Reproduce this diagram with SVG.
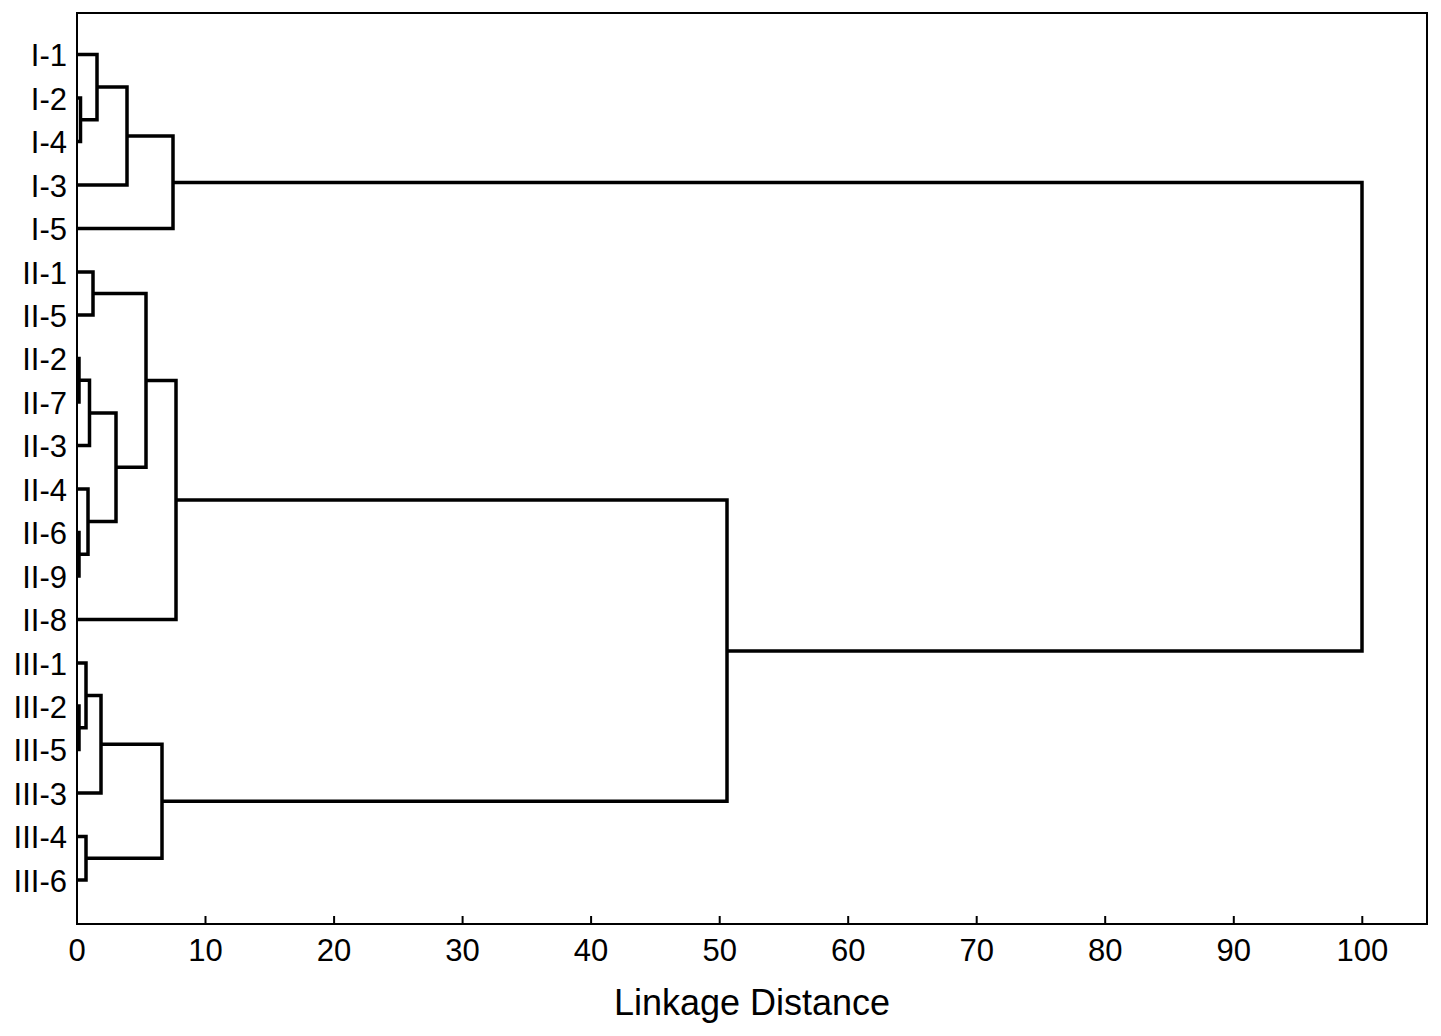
<svg xmlns="http://www.w3.org/2000/svg" width="1441" height="1036" viewBox="0 0 1441 1036">
<style>
.lbl{font-family:"Liberation Sans",Arial,sans-serif;font-size:31px;fill:#000;}
.leaf{text-anchor:end;}
.tick{text-anchor:middle;}
.title{font-family:"Liberation Sans",Arial,sans-serif;font-size:36px;fill:#000;text-anchor:middle;}
.link{fill:none;stroke:#000;stroke-width:3.5;stroke-linejoin:miter;}
.frame{fill:none;stroke:#000;stroke-width:2;}
.tk{stroke:#000;stroke-width:2;}
</style>
<rect x="0" y="0" width="1441" height="1036" fill="#fff"/>
<g id="frame">
<rect class="frame" x="77" y="13" width="1350" height="911"/>
<path class="tk" d="M205.5 924V916M334.1 924V916M462.6 924V916M591.1 924V916M719.7 924V916M848.2 924V916M976.7 924V916M1105.2 924V916M1233.8 924V916M1362.3 924V916"/>
</g>
<g id="axis-labels">
<text class="lbl tick" x="77" y="961">0</text>
<text class="lbl tick" x="205.5" y="961">10</text>
<text class="lbl tick" x="334.1" y="961">20</text>
<text class="lbl tick" x="462.6" y="961">30</text>
<text class="lbl tick" x="591.1" y="961">40</text>
<text class="lbl tick" x="719.7" y="961">50</text>
<text class="lbl tick" x="848.2" y="961">60</text>
<text class="lbl tick" x="976.7" y="961">70</text>
<text class="lbl tick" x="1105.2" y="961">80</text>
<text class="lbl tick" x="1233.8" y="961">90</text>
<text class="lbl tick" x="1362.3" y="961">100</text>
<text class="title" x="752" y="1015">Linkage Distance</text>
</g>
<g id="leaf-I-1"><text class="lbl leaf" x="67" y="66">I-1</text></g>
<g id="leaf-I-2"><text class="lbl leaf" x="67" y="109.5">I-2</text></g>
<g id="leaf-I-4"><text class="lbl leaf" x="67" y="153">I-4</text></g>
<g id="leaf-I-3"><text class="lbl leaf" x="67" y="196.5">I-3</text></g>
<g id="leaf-I-5"><text class="lbl leaf" x="67" y="240">I-5</text></g>
<g id="leaf-II-1"><text class="lbl leaf" x="67" y="283.5">II-1</text></g>
<g id="leaf-II-5"><text class="lbl leaf" x="67" y="326.5">II-5</text></g>
<g id="leaf-II-2"><text class="lbl leaf" x="67" y="370">II-2</text></g>
<g id="leaf-II-7"><text class="lbl leaf" x="67" y="413.5">II-7</text></g>
<g id="leaf-II-3"><text class="lbl leaf" x="67" y="457">II-3</text></g>
<g id="leaf-II-4"><text class="lbl leaf" x="67" y="500.5">II-4</text></g>
<g id="leaf-II-6"><text class="lbl leaf" x="67" y="544">II-6</text></g>
<g id="leaf-II-9"><text class="lbl leaf" x="67" y="587.5">II-9</text></g>
<g id="leaf-II-8"><text class="lbl leaf" x="67" y="631">II-8</text></g>
<g id="leaf-III-1"><text class="lbl leaf" x="67" y="674.5">III-1</text></g>
<g id="leaf-III-2"><text class="lbl leaf" x="67" y="717.5">III-2</text></g>
<g id="leaf-III-5"><text class="lbl leaf" x="67" y="761">III-5</text></g>
<g id="leaf-III-3"><text class="lbl leaf" x="67" y="804.5">III-3</text></g>
<g id="leaf-III-4"><text class="lbl leaf" x="67" y="848">III-4</text></g>
<g id="leaf-III-6"><text class="lbl leaf" x="67" y="891.5">III-6</text></g>
<g id="connectors">
<path class="link" d="M77 98H80.5V141.5H77"/>
<path class="link" d="M77 54.5H97V119.75H80.5"/>
<path class="link" d="M97 87H127V185H77"/>
<path class="link" d="M127 136H173V228.5H77"/>
<path class="link" d="M77 272H93V315H77"/>
<path class="link" d="M77 358.5H79V402H77"/>
<path class="link" d="M79 380.25H89.5V445.5H77"/>
<path class="link" d="M77 532.5H79V576H77"/>
<path class="link" d="M77 489H88V554.25H79"/>
<path class="link" d="M89.5 413H116V521.6H88"/>
<path class="link" d="M93 293.5H146V467.3H116"/>
<path class="link" d="M146 380.4H176V619.5H77"/>
<path class="link" d="M77 706H79V749.5H77"/>
<path class="link" d="M77 663H86V727.75H79"/>
<path class="link" d="M86 695.4H101V793H77"/>
<path class="link" d="M77 836.5H86V880H77"/>
<path class="link" d="M101 744.2H162V858.25H86"/>
<path class="link" d="M176 500H727V801.2H162"/>
<path class="link" d="M173 182.5H1362V651H727"/>
</g>
</svg>
